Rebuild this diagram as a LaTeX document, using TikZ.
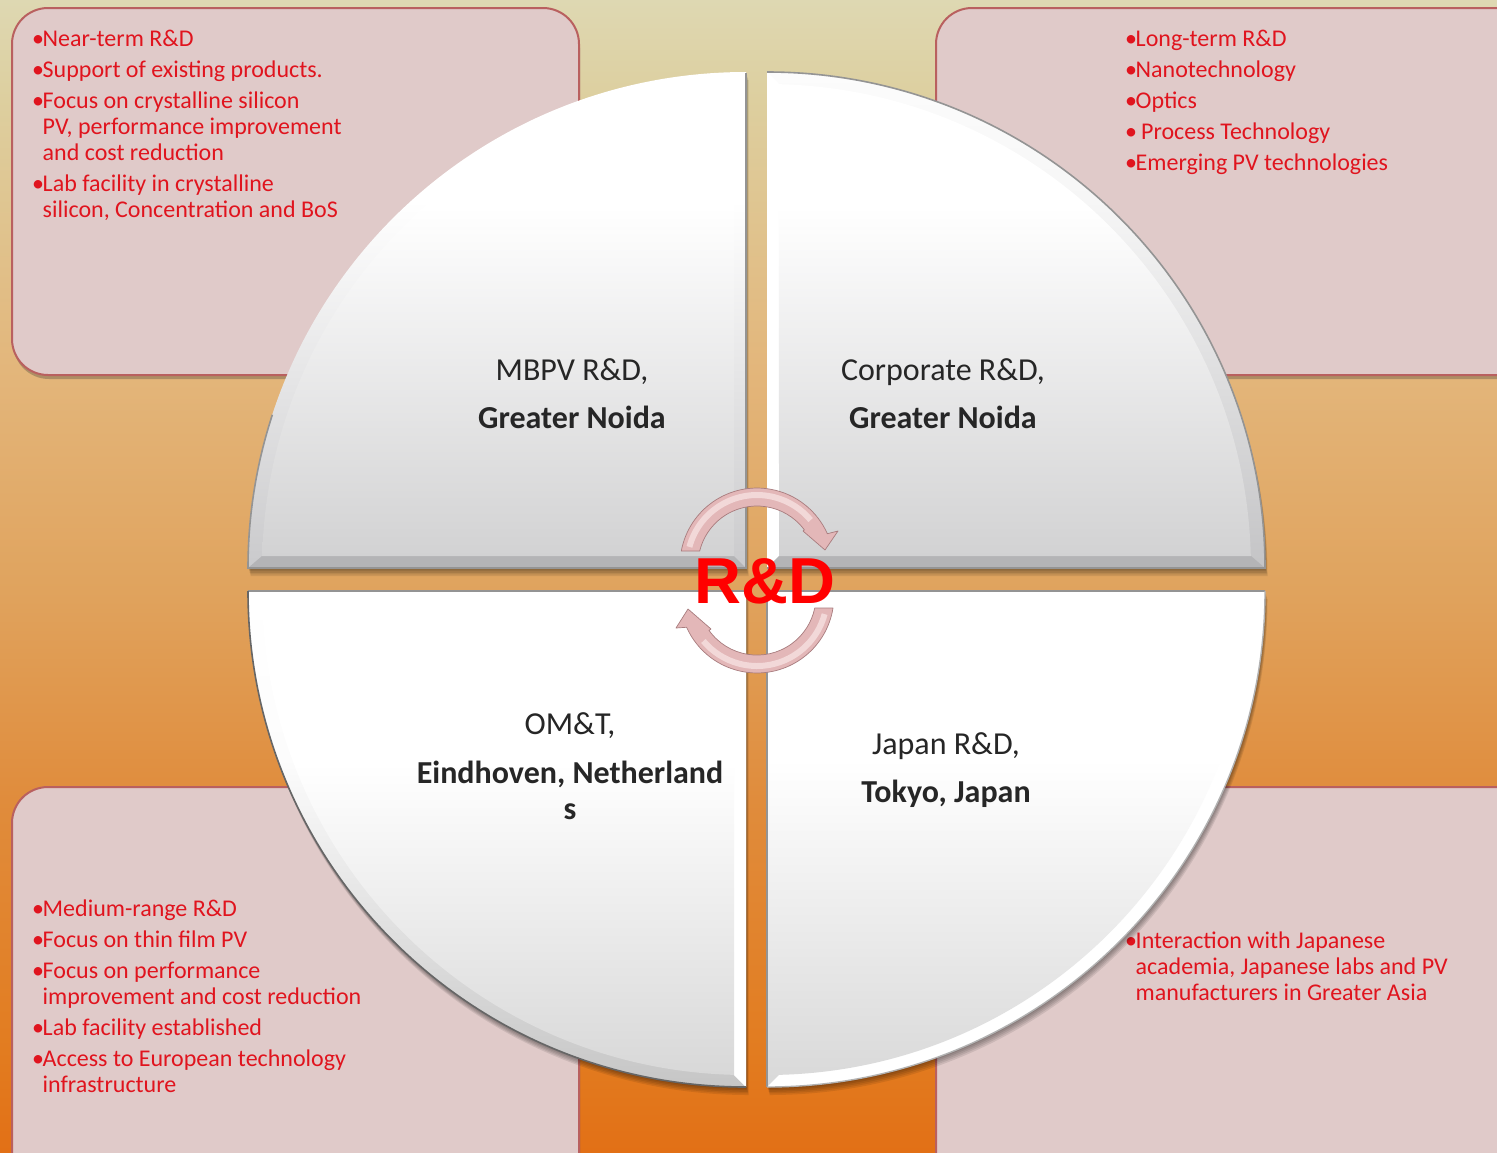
\documentclass[tikz,border=0pt]{standalone}
\usepackage{fontspec}
\setmainfont{Carlito}
\newfontfamily\arialb{Liberation Sans}
\usetikzlibrary{shadows}
\definecolor{boxfill}{HTML}{E0CAC9}
\definecolor{boxline}{HTML}{B9605F}
\definecolor{txtred}{HTML}{E0141E}
\definecolor{arrowA}{HTML}{E3B7B8}
\definecolor{arrowB}{HTML}{A87C7E}
\definecolor{arrowC}{HTML}{F5DEDE}
\definecolor{bga}{HTML}{E27016}
\definecolor{bgb}{HTML}{E27C20}
\definecolor{bgc}{HTML}{E08C3C}
\definecolor{bgd}{HTML}{E0A45F}
\definecolor{bge}{HTML}{E3B67B}
\definecolor{bgf}{HTML}{DDCF9F}
\definecolor{bgg}{HTML}{DED8B2}
\definecolor{bodyA}{HTML}{D2D2D3}
\definecolor{bodyB}{HTML}{D8D8D8}
\definecolor{rimA}{HTML}{C4C4C6}
\definecolor{rimB}{HTML}{F6F6F6}
\definecolor{rimC}{HTML}{FCFCFC}
\definecolor{rimD}{HTML}{CACACC}
\definecolor{rimE}{HTML}{C6C6C6}
\definecolor{stripdark}{HTML}{B4B4B6}
\definecolor{pure}{HTML}{FFFFFF}
\pgfdeclareverticalshading{bgshade}{100bp}{color(0bp)=(bga);color(25bp)=(bga);color(29.4bp)=(bgb);color(40.3bp)=(bgc);color(49.8bp)=(bgd);color(59bp)=(bge);color(70.7bp)=(bgf);color(75bp)=(bgg);color(100bp)=(bgg)}
\pgfdeclareverticalshading{bodytop}{100bp}{color(0bp)=(bodyA);color(25bp)=(bodyA);color(62bp)=(pure);color(100bp)=(pure)}
\pgfdeclareverticalshading{bodybot}{100bp}{color(0bp)=(bodyB);color(25bp)=(bodyB);color(58bp)=(pure);color(100bp)=(pure)}
\pgfdeclareverticalshading{rimdark}{100bp}{color(0bp)=(rimA);color(25bp)=(rimA);color(62bp)=(rimB);color(75bp)=(rimC);color(100bp)=(rimC)}
\pgfdeclareverticalshading{rimlight}{100bp}{color(0bp)=(rimD);color(25bp)=(rimD);color(62bp)=(pure);color(100bp)=(pure)}
\pgfdeclareverticalshading{rimlow}{100bp}{color(0bp)=(rimE);color(25bp)=(rimE);color(58bp)=(rimC);color(75bp)=(pure);color(100bp)=(pure)}
\newcommand{\bul}{\makebox[10.5pt][l]{\textbullet}}
\newcommand{\ind}{\hspace*{10.5pt}}
% quadrant outlines
\newcommand{\pTL}{(746,568) -- (248,568) arc[start angle=180,end angle=90,x radius=498pt,y radius=496pt] -- cycle}
\newcommand{\pTR}{(767,568) -- (1265,568) arc[start angle=0,end angle=90,x radius=498pt,y radius=496pt] -- cycle}
\newcommand{\pBL}{(746,591) -- (248,591) arc[start angle=180,end angle=270,x radius=498pt,y radius=496pt] -- cycle}
\newcommand{\pBR}{(767,591) -- (1265,591) arc[start angle=0,end angle=-90,x radius=498pt,y radius=496pt] -- cycle}
\newcommand{\softshadow}[1]{\foreach \d in {1,2,3,4,5}{\fill[black,opacity=.09,shift={(\d*.5,\d*1.6)}] #1;}}
\tikzset{
  x=1pt,y=-1pt,
  infobox/.style={fill=boxfill,draw=boxline,line width=2pt,rounded corners=36pt,
    drop shadow={shadow xshift=1pt,shadow yshift=-4pt,opacity=.3,fill=black!80}},
  infotext/.style={anchor=north west,align=left,inner sep=0pt,text=txtred,
    font=\fontsize{24}{26}\selectfont},
  quadlabel/.style={align=center,inner sep=0pt,text=black!85,font=\fontsize{32}{36}\selectfont},
  rimline/.style={draw=black!42,line width=1.6pt},
  cyclearrow/.style={fill=arrowA,draw=arrowB,line width=.7pt,line join=round},
  arrowlight/.style={draw=arrowC,line width=6pt,opacity=.85},
}
\begin{document}
\begin{tikzpicture}
\useasboundingbox (0,0) rectangle (1497,1152);
\shade[shading=bgshade] (0,0) rectangle (1497,1152);
\begin{scope}
\clip (0,0) rectangle (1497,1152);
\path[infobox] (12,8) rectangle (579,375);
\path[infobox] (936,8) rectangle (1540,375);
\path[infobox] (12,787) rectangle (579,1190);
\path[infobox] (936,787) rectangle (1540,1190);
\end{scope}
\node[infotext] (tl) at (32,30) {\bul Near-term R\&D\\[5pt]\bul Support  of existing  products.\\[5pt]\bul Focus on crystalline  silicon\\\ind PV,  performance improvement\\\ind and cost reduction\\[5pt]\bul Lab facility in crystalline\\\ind silicon, Concentration and BoS};
\node[infotext] (tr) at (1125,30) {\bul Long-term R\&D\\[5pt]\bul Nanotechnology\\[5pt]\bul Optics\\[5pt]\bul\ Process Technology\\[5pt]\bul Emerging PV technologies};
\node[infotext] (bl) at (32,900) {\bul Medium-range R\&D\\[5pt]\bul Focus on thin film  PV\\[5pt]\bul Focus on performance\\\ind improvement and cost reduction\\[5pt]\bul Lab facility established\\[5pt]\bul Access to European technology\\\ind infrastructure};
\node[infotext] (br) at (1125,932) {\bul Interaction with Japanese\\\ind academia, Japanese labs and PV\\\ind manufacturers in Greater Asia};
% soft shadows of the quadrants
\softshadow{\pTL}
\softshadow{\pTR}
\softshadow{\pBL}
\softshadow{\pBR}
% top-left quadrant
\shade[shading=rimlight] \pTL;
\fill[stripdark] (746,568) -- (248,568) -- (262,556) -- (734,556) -- cycle;
\shade[shading=bodytop] (734,556) -- (262.2,556) arc[start angle=178.58,end angle=91.42,radius=484pt] -- cycle;
\draw[rimline] (746,73) -- (746,568) -- (248,568) arc[start angle=180,end angle=162,x radius=498pt,y radius=496pt];
% top-right quadrant
\shade[shading=rimdark] \pTR;
\fill[white] (767,72) -- (767,568) -- (779,556) -- (779,84) -- cycle;
\fill[stripdark] (767,568) -- (1265,568) -- (1251,556) -- (779,556) -- cycle;
\shade[shading=bodytop] (779,556) -- (1250.8,556) arc[start angle=1.42,end angle=88.58,radius=484pt] -- cycle;
\draw[rimline] (767,568) -- (1265,568) arc[start angle=0,end angle=90,x radius=498pt,y radius=496pt];
% bottom-left quadrant
\shade[shading=rimlow] \pBL;
\fill[white] (746,591) -- (734,603) -- (734,1075) -- (746,1087) -- cycle;
\fill[white] (746,591) -- (248,591) -- (262,603) -- (734,603) -- cycle;
\shade[shading=bodybot] (734,603) -- (262.2,603) arc[start angle=181.42,end angle=268.58,radius=484pt] -- cycle;
\draw[rimline] (746,591) -- (248,591);
\draw[draw=black!60,line width=1.6pt] (248,591) arc[start angle=180,end angle=270,x radius=498pt,y radius=496pt];
% bottom-right quadrant
\fill[white] \pBR;
\shade[shading=bodybot] (767,591) -- (779,603) -- (1250.8,603) arc[start angle=-1.42,end angle=-88.58,radius=484pt] -- (767,1087) -- cycle;
\fill[white] (767,591) -- (1265,591) -- (1251,603) -- (779,603) -- cycle;
\draw[rimline] (767,1087) -- (767,591) -- (1265,591);
\draw[draw=black!30,line width=1.4pt] (1265,591) arc[start angle=0,end angle=-90,x radius=498pt,y radius=496pt];
% labels
\node[quadlabel] (q1) at (572,393.5) {MBPV R\&D,\\[12pt]\textbf{Greater Noida}};
\node[quadlabel] (q2) at (943,393.5) {Corporate R\&D,\\[12pt]\textbf{Greater Noida}};
\node[quadlabel] (q3) at (570,766.5) {OM\&T,\\[13pt]\textbf{Eindhoven, Netherland}\\\textbf{s}};
\node[quadlabel] (q4) at (946,770) {Japan R\&D,\\[12pt]\textbf{Tokyo, Japan}};
% cycle arrows
\path[cyclearrow] (681.3,551) arc[start angle=169.5,end angle=24,radius=77pt] -- (838,531) -- (825,550) -- (803,531) -- (804.4,529.9) arc[start angle=36.5,end angle=166.3,radius=59pt] -- cycle;
\draw[arrowlight] (689.4,546.9) arc[start angle=165,end angle=40,radius=70pt];
\path[cyclearrow] (833,608) arc[start angle=-9,end angle=-156,radius=77pt] -- (676,628) -- (688,609) -- (711,629) -- (709,630.4) arc[start angle=-144.4,end angle=-11.7,radius=59pt] -- cycle;
\draw[arrowlight] (824.6,614.1) arc[start angle=-15,end angle=-140,radius=70pt];
\node[inner sep=0pt,text=red] (rd) at (765,581) {\fontsize{65}{70}\selectfont\arialb\bfseries R\&D};
\end{tikzpicture}
\end{document}
